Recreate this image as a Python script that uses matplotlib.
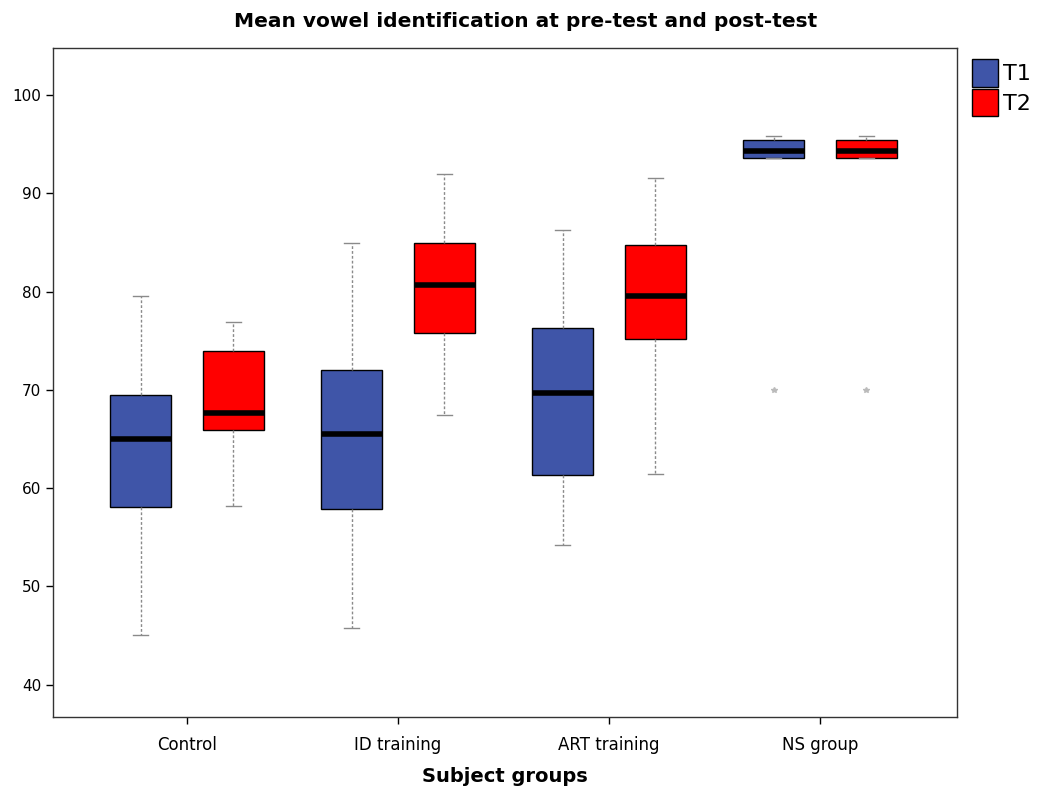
import matplotlib
matplotlib.use('Agg')
import matplotlib.pyplot as plt
from matplotlib.patches import Patch
import numpy as np

groups = ['Control', 'ID training', 'ART training', 'NS group']
series = ['T1', 'T2']
colors = ['#3f55a8', '#ff0000']

# five-number summaries per group: [whislo, q1, med, q3, whishi]
t1_stats = [
    [45.0, 58.1, 65.0, 69.5, 79.6],
    [45.8, 57.9, 65.5, 72.0, 84.9],
    [54.2, 61.3, 69.7, 76.3, 86.3],
    [93.6, 93.6, 94.3, 95.4, 95.8],
]
t2_stats = [
    [58.2, 65.9, 67.6, 74.0, 76.9],
    [67.4, 75.8, 80.7, 84.9, 92.0],
    [61.4, 75.2, 79.6, 84.7, 91.6],
    [93.6, 93.6, 94.3, 95.4, 95.8],
]
t1_fliers = [[], [], [], [70.0]]
t2_fliers = [[], [], [], [70.0]]


def make_stats(rows, fliers):
    out = []
    for r, f in zip(rows, fliers):
        out.append(dict(whislo=r[0], q1=r[1], med=r[2], q3=r[3], whishi=r[4], fliers=f))
    return out


fig = plt.figure(figsize=(10.37, 7.92), dpi=100)
ax = fig.add_axes([0.0511, 0.0947, 0.8717, 0.8447])

x = np.arange(len(groups))
offset = 0.22
width = 0.29

for i, (stats, fl) in enumerate([(t1_stats, t1_fliers), (t2_stats, t2_fliers)]):
    pos = x + (i * 2 - 1) * offset
    ax.bxp(make_stats(stats, fl), positions=pos, widths=width, patch_artist=True,
           showfliers=True,
           boxprops=dict(facecolor=colors[i], edgecolor='black', linewidth=1.0),
           medianprops=dict(color='black', linewidth=4),
           whiskerprops=dict(color='#8a8a8a', linestyle=(0, (2, 1.5)), linewidth=1.0),
           capprops=dict(color='#8a8a8a', linewidth=1.0),
           capwidths=0.07,
           flierprops=dict(marker='*', markersize=4, markerfacecolor='#bbbbbb',
                           markeredgecolor='#bbbbbb', linestyle='none'))

ax.set_xlim(-0.635, 3.649)
ax.set_ylim(36.7, 104.8)
ax.set_yticks([40, 50, 60, 70, 80, 90, 100])
ax.set_xticks(x)
ax.set_xticklabels(groups, fontsize=12)
ax.tick_params(axis='y', labelsize=11, length=5, width=1)
ax.tick_params(axis='x', length=5, width=1, pad=9)
for s in ax.spines.values():
    s.set_linewidth(1.0)
    s.set_color('#333333')

ax.set_xlabel('Subject groups', fontsize=14, fontweight='bold', labelpad=9)
fig.suptitle('Mean vowel identification at pre-test and post-test',
             fontsize=14.5, fontweight='bold', x=0.507, y=0.985)

handles = [Patch(facecolor=c, edgecolor='black', label=l) for c, l in zip(colors, series)]
fig.legend(handles=handles, loc='upper left', bbox_to_anchor=(0.937, 0.925),
           frameon=False, fontsize=16, handlelength=1.2, handleheight=1.5,
           handletextpad=0.2, labelspacing=0.1, borderaxespad=0, borderpad=0)

fig.savefig('out.png', dpi=100)
